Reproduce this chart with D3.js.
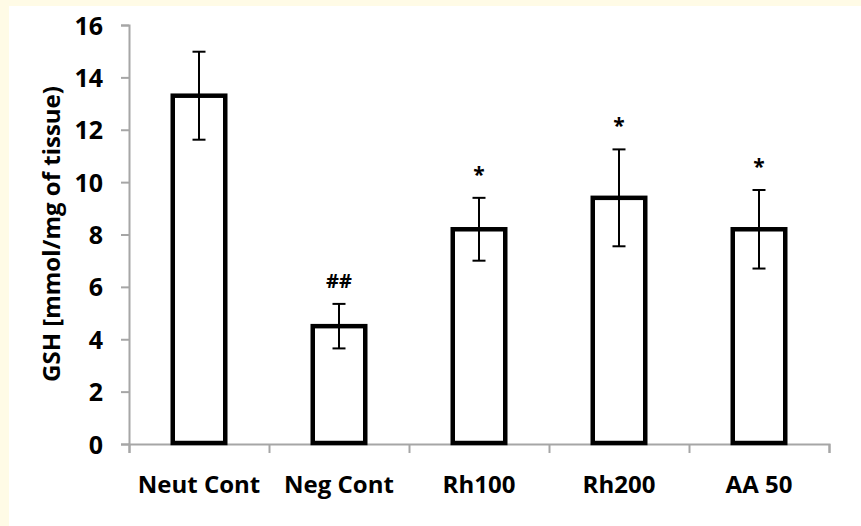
<!DOCTYPE html>
<html>
<head>
<meta charset="utf-8">
<script src="https://cdn.jsdelivr.net/npm/d3@7"></script>
<style>
  html, body { margin: 0; padding: 0; background: #ffffff; }
  svg { display: block; }
</style>
</head>
<body>
<svg id="chart" width="861" height="526"></svg>
<script>
const categories = ["Neut Cont", "Neg Cont", "Rh100", "Rh200", "AA 50"];
const means = [13.3, 4.5, 8.2, 9.4, 8.2];
const errors = [1.68, 0.85, 1.2, 1.85, 1.5];
const marks = ["", "##", "*", "*", "*"];
const yTicks = [0, 2, 4, 6, 8, 10, 12, 14, 16];
const yLabel = "GSH [mmol/mg of tissue)";

const W = 861, H = 526;
const svg = d3.select("#chart");
const font = "'Open Sans', sans-serif";

// background: cream frame strip on top/left, white panel
svg.append("rect").attr("x", 0).attr("y", 0).attr("width", W).attr("height", H).attr("fill", "#fffbe6");
svg.append("rect").attr("x", 9).attr("y", 6).attr("width", W - 9).attr("height", H - 6).attr("fill", "#ffffff");

const x0 = 129, x1 = 829, yTop = 25, yBot = 444;
const x = d3.scaleBand().domain(categories).range([x0, x1]).paddingInner(0.625).paddingOuter(0.3125);
const y = d3.scaleLinear().domain([0, 16]).range([yBot, yTop]);

const axisColor = "#a6a6a6";

// y axis
const gy = svg.append("g").attr("transform", `translate(${x0},0)`)
  .call(d3.axisLeft(y).tickValues(yTicks).tickSize(8).tickPadding(18).tickFormat(d3.format("d")));
gy.select(".domain").attr("stroke", axisColor).attr("stroke-width", 2);
gy.selectAll(".tick line").attr("stroke", axisColor).attr("stroke-width", 2);
gy.selectAll(".tick text").attr("font-family", font).attr("font-weight", "bold")
  .attr("font-size", 25).attr("fill", "#000").attr("dy", "0.36em");

// x axis with category boundary ticks
const xEdge = d3.scaleLinear().domain([0, categories.length]).range([x0, x1]);
const gx = svg.append("g").attr("transform", `translate(0,${yBot})`)
  .call(d3.axisBottom(xEdge).tickValues(d3.range(categories.length + 1)).tickSize(9).tickFormat(""));
gx.select(".domain").attr("stroke", axisColor).attr("stroke-width", 2);
gx.selectAll(".tick line").attr("stroke", axisColor).attr("stroke-width", 2);

// x category labels
svg.append("g").selectAll("text").data(categories).join("text")
  .attr("x", d => x(d) + x.bandwidth() / 2)
  .attr("y", 493)
  .attr("text-anchor", "middle")
  .attr("font-family", font).attr("font-weight", "bold").attr("font-size", 24)
  .attr("fill", "#000")
  .text(d => d);

// bars
svg.append("g").selectAll("rect").data(categories).join("rect")
  .attr("x", d => x(d))
  .attr("y", (d, i) => y(means[i]))
  .attr("width", x.bandwidth())
  .attr("height", (d, i) => y(0) - y(means[i]) - 1)
  .attr("fill", "#fff")
  .attr("stroke", "#000")
  .attr("stroke-width", 4.5);

// error bars
const eg = svg.append("g").attr("stroke", "#000").attr("stroke-width", 2);
categories.forEach((c, i) => {
  const cx = x(c) + x.bandwidth() / 2;
  const t = y(means[i] + errors[i]), b = y(means[i] - errors[i]);
  eg.append("line").attr("x1", cx).attr("x2", cx).attr("y1", t).attr("y2", b);
  eg.append("line").attr("x1", cx - 6.5).attr("x2", cx + 6.5).attr("y1", t).attr("y2", t);
  eg.append("line").attr("x1", cx - 6.5).attr("x2", cx + 6.5).attr("y1", b).attr("y2", b);
});

// significance marks
svg.append("g").selectAll("text").data(categories).join("text")
  .attr("x", d => x(d) + x.bandwidth() / 2)
  .attr("y", (d, i) => y(means[i] + errors[i]) - (marks[i] === "##" ? 16 : 16))
  .attr("text-anchor", "middle")
  .attr("font-family", font).attr("font-weight", "bold")
  .attr("font-size", (d, i) => marks[i] === "##" ? 20 : 21)
  .attr("fill", "#000")
  .text((d, i) => marks[i]);

// y axis label
svg.append("text")
  .attr("transform", `translate(60,234) rotate(-90)`)
  .attr("text-anchor", "middle")
  .attr("font-family", font).attr("font-weight", "bold").attr("font-size", 24)
  .attr("fill", "#000")
  .text(yLabel);
</script>
</body>
</html>
